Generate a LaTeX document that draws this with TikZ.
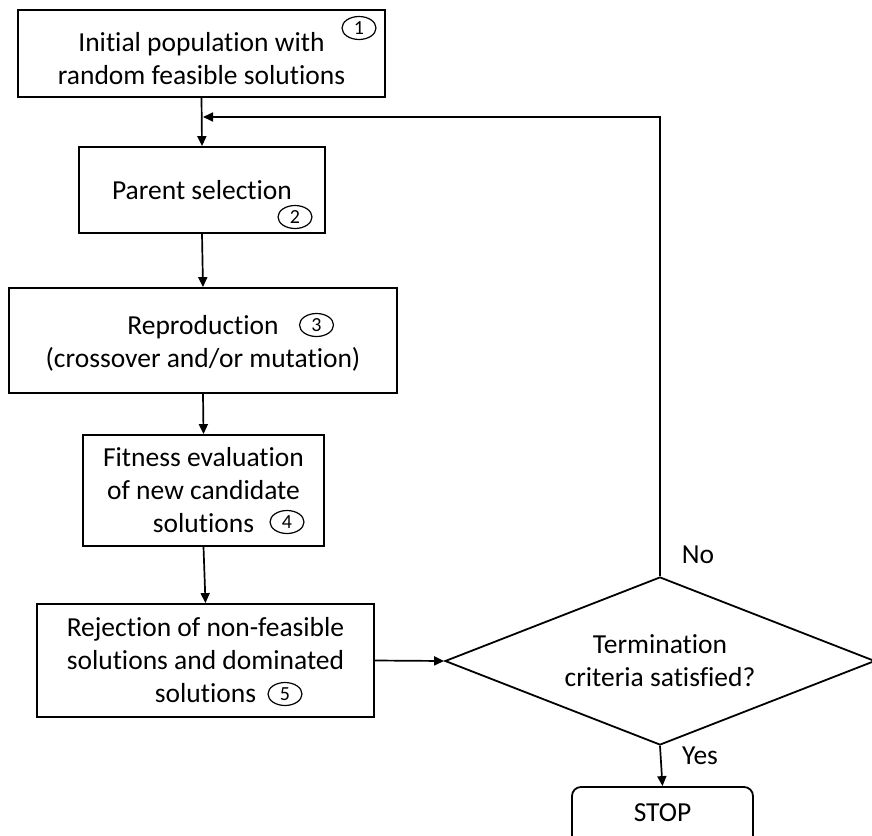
\documentclass[tikz,border=0pt]{standalone}
\usepackage{fontspec}
\setmainfont{Carlito}[Ligatures={NoCommon}]
\usetikzlibrary{shapes.geometric,arrows.meta}
\begin{document}
\begin{tikzpicture}[x=1pt,y=-1pt,
  box/.style={draw, line width=1.8pt, inner sep=0pt, align=center, font=\fontsize{27.5}{33}\selectfont},
  num/.style={draw, ellipse, line width=1.2pt, inner sep=0pt, minimum width=34pt, minimum height=23pt, font=\fontsize{20}{20}\selectfont},
  arr/.style={line width=1.7pt, -{Triangle[length=10pt,width=9pt]}},
  lbl/.style={font=\fontsize{27.5}{33}\selectfont, inner sep=0pt, align=center}
]
\clip (0,0) rectangle (872,835);
\node[box, minimum width=367pt, minimum height=87pt] (b1) at (201.5,53.5) {};
\node[lbl] (t1) at (201.5,59) {Initial population with\\random feasible solutions};
\node[num] (n1) at (359,28) {1};
\node[box, minimum width=246pt, minimum height=86pt] (b2) at (202,190) {Parent selection};
\node[num] (n2) at (295,217) {2};
\node[box, minimum width=388pt, minimum height=105pt] (b3) at (203,340.5) {};
\node[lbl] (t3) at (203,343) {Reproduction\\(crossover and/or mutation)};
\node[num] (n3) at (316.5,325) {3};
\node[box, minimum width=241pt, minimum height=111pt] (b4) at (203.5,490.5) {Fitness evaluation\\of new candidate\\solutions};
\node[num] (n4) at (287,522) {4};
\node[box, minimum width=337pt, minimum height=113pt] (b5) at (205.5,660.5) {Rejection of non-feasible\\solutions and dominated\\solutions};
\node[num] (n5) at (285,694) {5};
\node[box, diamond, aspect=2.56, minimum width=430pt, minimum height=168pt] (dia) at (660,661) {Termination\\criteria satisfied?};
\node[box, rounded corners=9pt, minimum width=181pt, minimum height=58pt] (stop) at (662.5,816) {};
\node[lbl] (st) at (662.5,813) {STOP};
\node[lbl] (no) at (698,555) {No};
\node[lbl] (yes) at (700,756) {Yes};
\coordinate (fb) at (203,117);
\draw[arr] (b1.south) -- (b2.north);
\draw[arr] (b2.south) -- (b3.north);
\draw[arr] (b3.south) -- (b4.north);
\draw[arr] (b4.south) -- (b5.north);
\draw[arr] (b5.east) -- (dia.west);
\draw[arr] (dia.south) -- (stop.north);
\draw[arr] (dia.north) |- (fb);
\end{tikzpicture}
\end{document}
